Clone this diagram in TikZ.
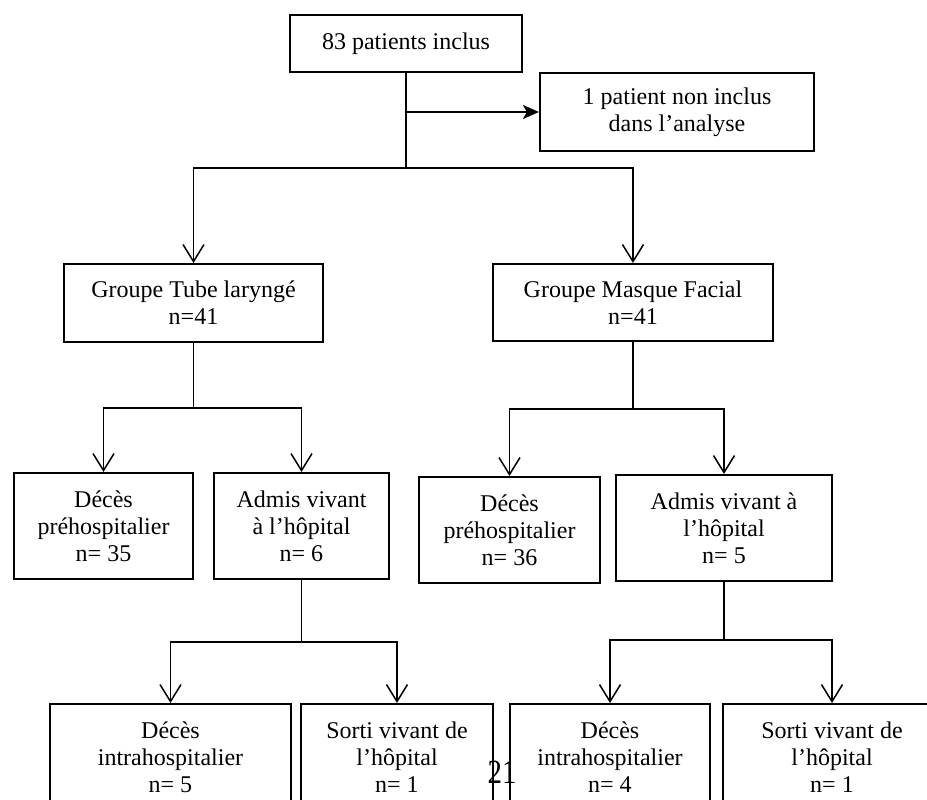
\documentclass[tikz,border=0pt]{standalone}
\usepackage{fontspec}
\setmainfont{Liberation Serif}
\usetikzlibrary{arrows.meta}
\begin{document}
\begin{tikzpicture}[x=1pt,y=-1pt,
  box/.style={draw, line width=2.1pt, align=center, inner sep=0pt, font=\fontsize{24}{27}\selectfont},
  conn/.style={line width=1.9pt},
  barb/.style={conn, -{Straight Barb[length=17pt,width=21pt,line width=1.5pt]}},
  solidarrow/.style={conn, -{Stealth[length=16pt,width=14pt,inset=4pt]}}]
\useasboundingbox (0,0) rectangle (927,800);
\clip (0,0) rectangle (927,800);
\fill[white] (0,0) rectangle (927,800);

\node[box, minimum width=232pt, minimum height=57pt] (incl) at (406,43.5) {83 patients inclus};
\node[box, minimum width=274pt, minimum height=78pt] (nonincl) at (677,112) {1 patient non inclus\\dans l’analyse};
\node[box, minimum width=259pt, minimum height=78pt] (tube) at (193.5,303) {Groupe Tube laryngé\\n=41};
\node[box, minimum width=280pt, minimum height=77pt] (masque) at (633,302.5) {Groupe Masque Facial\\n=41};

\node[box, minimum width=179pt, minimum height=106pt] (dpL) at (103.5,526) {Décès\\préhospitalier\\n= 35};
\node[box, minimum width=175pt, minimum height=106pt] (avL) at (301.5,526) {Admis vivant\\à l’hôpital\\n= 6};
\node[box, minimum width=181pt, minimum height=106pt] (dpR) at (509.5,530) {Décès\\préhospitalier\\n= 36};
\node[box, minimum width=216pt, minimum height=106pt] (avR) at (724,528) {Admis vivant à\\l’hôpital\\n= 5};

\node[box, minimum width=241pt, minimum height=106pt] (diL) at (170.5,757) {Décès\\intrahospitalier\\n= 5};
\node[box, minimum width=192pt, minimum height=106pt] (svL) at (397,757) {Sorti vivant de\\l’hôpital\\n= 1};
\node[box, minimum width=200pt, minimum height=106pt] (diR) at (610,757) {Décès\\intrahospitalier\\n= 4};
\node[box, minimum width=218pt, minimum height=106pt] (svR) at (832,757) {Sorti vivant de\\l’hôpital\\n= 1};

\coordinate (j1) at (406,168);
\draw[conn] (incl.south) -- (j1);
\draw[solidarrow] (incl.south |- nonincl.west) -- (nonincl.west);
\draw[barb] (j1) -| (tube.north);
\draw[barb] (j1) -| (masque.north);

\coordinate (j2) at (193.5,408);
\draw[conn] (tube.south) -- (j2);
\draw[barb] (j2) -| (dpL.north);
\draw[barb] (j2) -| (avL.north);

\coordinate (j3) at (633,409);
\draw[conn] (masque.south) -- (j3);
\draw[barb] (j3) -| (dpR.north);
\draw[barb] (j3) -| (avR.north);

\coordinate (j4) at (301.5,642);
\draw[conn] (avL.south) -- (j4);
\draw[barb] (j4) -| (diL.north);
\draw[barb] (j4) -| (svL.north);

\coordinate (j5) at (724,640);
\draw[conn] (avR.south) -- (j5);
\draw[barb] (j5) -| (diR.north);
\draw[barb] (j5) -| (svR.north);

\node[anchor=base, font=\fontsize{34}{34}\selectfont, inner sep=0pt] (pg) at (502,783) {\scalebox{0.85}[1]{21}};
\end{tikzpicture}
\end{document}
